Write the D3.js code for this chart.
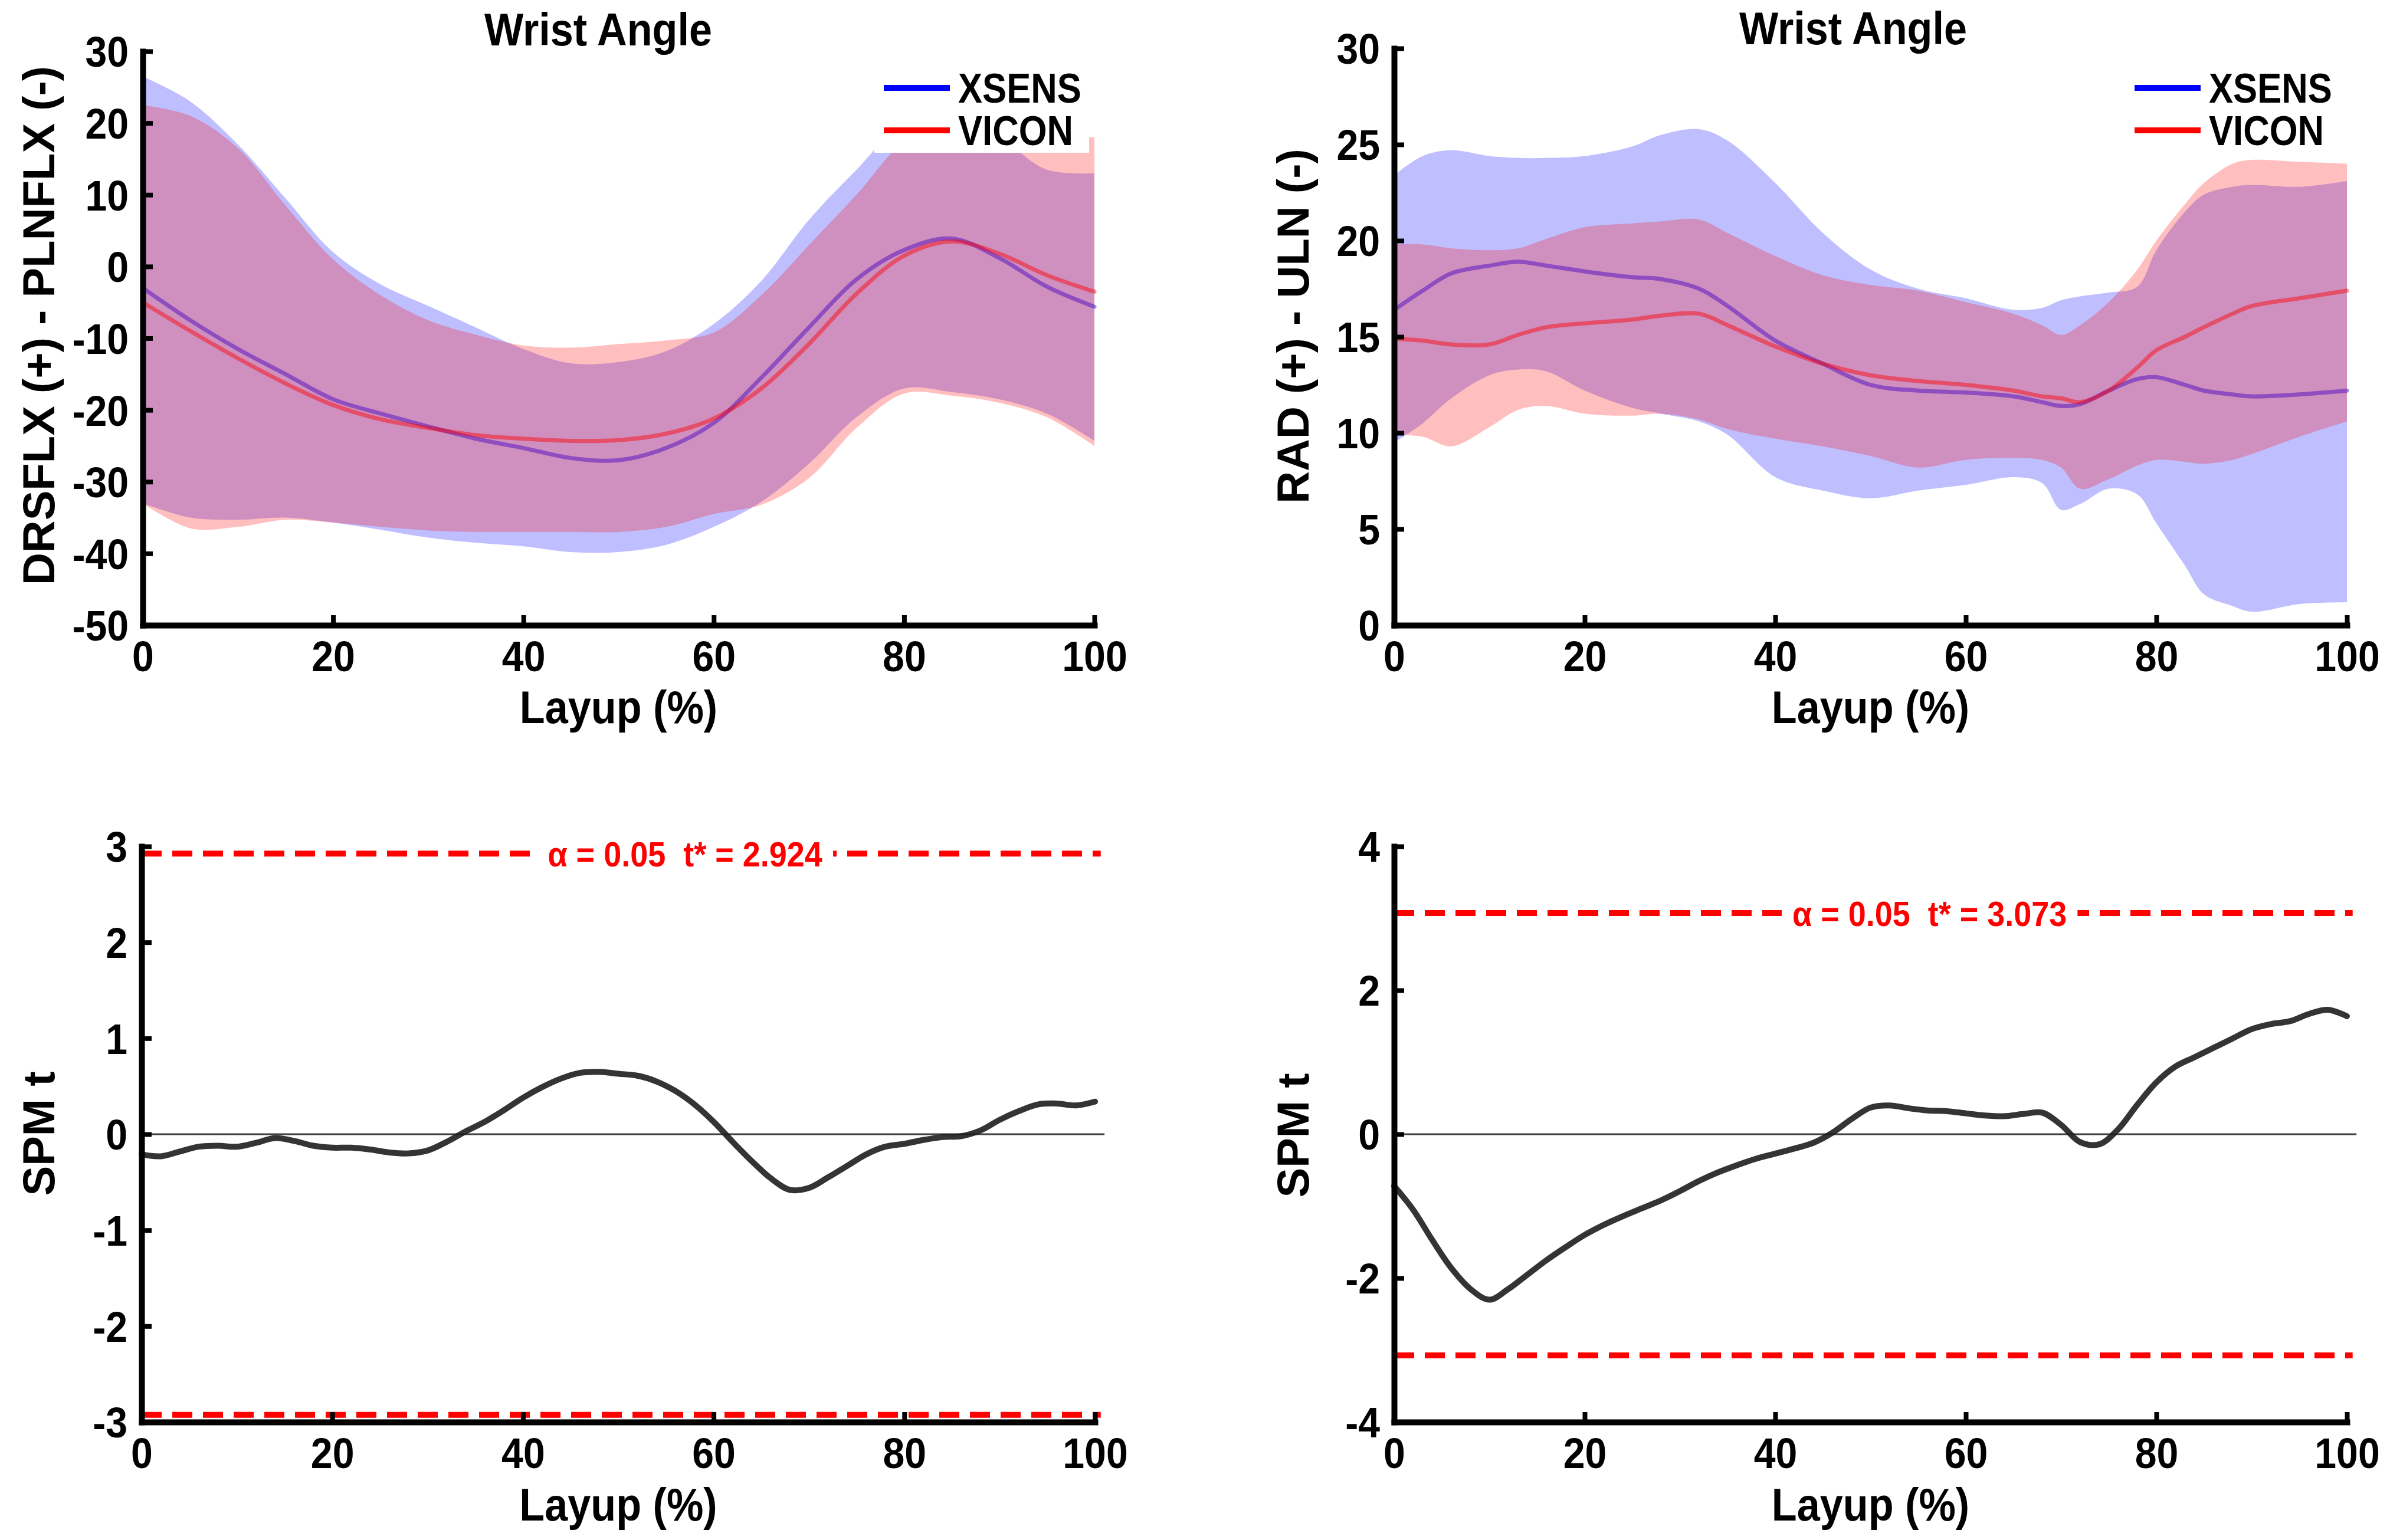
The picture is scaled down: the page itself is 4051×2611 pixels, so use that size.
<!DOCTYPE html>
<html>
<head>
<meta charset="utf-8">
<script src="https://d3js.org/d3.v7.min.js"></script>
<style>
  body { margin: 0; background: #fff; }
  text { font-weight: bold; white-space: pre; }
  /* no narrow face installed: regular Liberation Sans squeezed with scaleX */
  .narrow { font-family: 'Liberation Sans', Arial, sans-serif; }
  .wide { font-family: 'Liberation Sans', Arial, sans-serif; }
</style>
</head>
<body>
<script>
// ---------- data ----------
const xTicks = [0, 20, 40, 60, 80, 100];
const flexYTicks = [-50, -40, -30, -20, -10, 0, 10, 20, 30];
const radYTicks = [0, 5, 10, 15, 20, 25, 30];
const spmFlexTicks = [-3, -2, -1, 0, 1, 2, 3];
const spmRadTicks = [-4, -2, 0, 2, 4];
const seriesNames = ['XSENS', 'VICON'];

// wrist flexion/extension, mean +- sd
const flexPct = [0, 5, 10, 15, 20, 25, 30, 35, 40, 45, 50, 55, 60, 65, 70, 75, 80, 85, 90, 95, 100];
const flexXsensMean = [-3, -7.5, -11.5, -15, -18.5, -20.5, -22.3, -24, -25.3, -26.7, -27, -25.3, -21.8, -15.5, -8.5, -1.8, 2.3, 3.9, 1.2, -2.8, -5.6];
const flexViconMean = [-5, -9, -12.8, -16.3, -19.3, -21.3, -22.5, -23.5, -24, -24.3, -24.2, -23.3, -21.2, -17, -10.8, -3.8, 1.5, 3.5, 1.8, -1.2, -3.5];
const flexXsensUpper = [26.5, 23, 17, 9.5, 2, -2.5, -5.5, -8.5, -11.5, -13.5, -13.3, -11.8, -8, -2, 6.5, 13.5, 20, 21, 18, 13.5, 13];
const flexXsensLower = [-33, -35, -35.3, -35, -35.7, -36.7, -37.8, -38.5, -39, -39.8, -39.8, -38.8, -36.3, -32.8, -27.5, -21, -17, -17.5, -18.5, -20.5, -24.3];
const flexViconUpper = [22.5, 21, 16.5, 8.5, 1, -4, -7.5, -9.5, -11, -11.3, -10.8, -10.3, -9.2, -4, 3, 10, 17.5, 21, 21, 18.5, 18];
const flexViconLower = [-33, -36.5, -36.3, -35.3, -35.7, -36.3, -36.8, -37, -37, -37, -37, -36.3, -34.5, -33.2, -29.5, -22.5, -17.7, -18, -19, -21, -25];

// radial/ulnar deviation, mean +- sd
const radPct = [0, 3, 6, 10, 13, 16, 20, 25, 28, 32, 35, 40, 45, 50, 55, 60, 65, 68, 70, 72, 75, 78, 80, 83, 85, 88, 90, 95, 100];
const radXsensMean = [16.4, 17.4, 18.3, 18.7, 18.9, 18.7, 18.4, 18.1, 18.0, 17.5, 16.6, 14.8, 13.6, 12.5, 12.2, 12.1, 11.9, 11.6, 11.4, 11.5, 12.2, 12.8, 12.9, 12.5, 12.2, 12.0, 11.9, 12.0, 12.2];
const radViconMean = [14.9, 14.8, 14.6, 14.6, 15.1, 15.5, 15.7, 15.9, 16.1, 16.2, 15.6, 14.5, 13.6, 13.0, 12.7, 12.5, 12.2, 11.9, 11.8, 11.6, 12.2, 13.4, 14.3, 15.0, 15.5, 16.2, 16.6, 17.0, 17.4];
const radXsensUpper = [23.4, 24.4, 24.7, 24.4, 24.3, 24.3, 24.4, 24.9, 25.5, 25.8, 25.2, 23.0, 20.4, 18.5, 17.5, 17.0, 16.4, 16.5, 16.9, 17.1, 17.3, 17.6, 19.5, 21.5, 22.4, 22.8, 22.9, 22.8, 23.1];
const radXsensLower = [9.5, 10.5, 11.8, 13.0, 13.3, 13.2, 12.2, 11.3, 11.0, 10.6, 9.9, 7.7, 7.0, 6.6, 7.0, 7.3, 7.7, 7.4, 6.0, 6.3, 7.1, 6.8, 5.3, 3.1, 1.6, 1.0, 0.7, 1.1, 1.2];
const radViconUpper = [19.8, 19.8, 19.6, 19.5, 19.6, 20.1, 20.7, 20.9, 21.0, 21.1, 20.4, 19.2, 18.2, 17.7, 17.4, 16.8, 16.2, 15.6, 15.1, 15.6, 16.8, 18.5, 20.0, 21.9, 23.0, 24.0, 24.2, 24.1, 24.0];
const radViconLower = [9.9, 9.8, 9.3, 10.3, 11.2, 11.4, 11.0, 10.9, 11.0, 10.7, 10.2, 9.7, 9.3, 8.8, 8.2, 8.6, 8.7, 8.6, 8.2, 7.1, 7.6, 8.3, 8.6, 8.5, 8.4, 8.6, 8.9, 9.8, 10.6];

// SPM t curves
const spmPct = [0, 2, 4, 6, 8, 10, 12, 14, 16, 18, 20, 22, 24, 26, 28, 30, 32, 34, 36, 38, 40, 42, 44, 46, 48, 50,
                52, 54, 56, 58, 60, 62, 64, 66, 68, 70, 72, 74, 76, 78, 80, 82, 84, 86, 88, 90, 92, 94, 96, 98, 100];
const spmFlex = [-0.21, -0.23, -0.18, -0.13, -0.12, -0.13, -0.09, -0.04, -0.07, -0.12, -0.14, -0.14, -0.16, -0.19, -0.20, -0.17, -0.08, 0.03, 0.13, 0.25, 0.38, 0.49, 0.58, 0.64, 0.65, 0.63,
                 0.61, 0.55, 0.45, 0.31, 0.13, -0.08, -0.28, -0.46, -0.58, -0.56, -0.45, -0.33, -0.21, -0.13, -0.10, -0.06, -0.03, -0.02, 0.04, 0.15, 0.24, 0.31, 0.32, 0.30, 0.34];
const spmRad = [-0.72, -1.05, -1.47, -1.86, -2.15, -2.30, -2.15, -1.95, -1.75, -1.57, -1.40, -1.26, -1.14, -1.03, -0.92, -0.79, -0.65, -0.53, -0.43, -0.34, -0.27, -0.20, -0.12, 0.02, 0.21, 0.37,
                0.40, 0.36, 0.33, 0.32, 0.29, 0.26, 0.25, 0.28, 0.30, 0.13, -0.11, -0.14, 0.07, 0.41, 0.72, 0.94, 1.07, 1.20, 1.33, 1.46, 1.53, 1.57, 1.67, 1.73, 1.64];
const tStarFlex = 2.924;
const tStarRad = 3.073;

// ---------- drawing ----------
const width = 4051, height = 2611;
const svg = d3.select('body').append('svg')
  .attr('width', width)
  .attr('height', height)
  .style('background', '#fff');

const smooth = d3.curveCatmullRom.alpha(0.5);

// condensed looking bold text
function label(g, x, y, str, size, sx, anchor, cls) {
  return g.append('text')
    .attr('class', cls || 'narrow')
    .attr('transform', 'translate(' + x + ',' + y + ') scale(' + sx + ',1)')
    .attr('text-anchor', anchor || 'middle')
    .attr('font-size', size)
    .text(str);
}

function panel(p) {
  const g = svg.append('g');
  const x = d3.scaleLinear().domain([0, 100]).range([p.left, p.right]);
  const y = d3.scaleLinear().domain(p.yDomain).range([p.bottom, p.top]);
  return { g: g, x: x, y: y };
}

function axes(pn, p) {
  const xAxis = d3.axisBottom(pn.x).tickValues(xTicks).tickFormat(d => String(d))
    .tickSizeInner(-17).tickSizeOuter(0);
  const yAxis = d3.axisLeft(pn.y).tickValues(p.yTicks).tickFormat(d => String(d))
    .tickSizeInner(-17).tickSizeOuter(0);

  const gx = pn.g.append('g').attr('transform', 'translate(0,' + p.bottom + ')').call(xAxis);
  const gy = pn.g.append('g').attr('transform', 'translate(' + p.left + ',0)').call(yAxis);

  [gx, gy].forEach(a => {
    a.select('.domain').attr('stroke', '#000').attr('stroke-width', 10).attr('stroke-linecap', 'square');
    a.selectAll('.tick line').attr('stroke', '#000').attr('stroke-width', 8);
    a.selectAll('.tick text')
      .attr('class', 'narrow')
      .attr('fill', '#000')
      .attr('font-size', 72)
      .attr('font-weight', 'bold');
  });
  gx.selectAll('.tick text').attr('y', 27).attr('transform', 'scale(0.92,1)');
  gy.selectAll('.tick text').attr('x', -26).attr('dy', '0.36em').attr('transform', 'scale(0.92,1)');

  // axis titles
  label(pn.g, (p.left + p.right) / 2, p.xlabelY, 'Layup (%)', 78, 0.9);
  pn.g.append('text')
    .attr('class', 'wide')
    .attr('transform', 'translate(' + p.ylabelX + ',' + p.ylabelY + ') rotate(-90)')
    .attr('text-anchor', 'middle')
    .attr('dy', '0.35em')
    .attr('font-size', 76)
    .text(p.ylabel);
}

function band(pn, pct, lo, hi, color) {
  const area = d3.area()
    .x((d, i) => pn.x(pct[i]))
    .y0((d, i) => pn.y(lo[i]))
    .y1((d, i) => pn.y(hi[i]))
    .curve(smooth);
  pn.g.append('path').datum(pct).attr('d', area)
    .attr('fill', color).attr('fill-opacity', 0.25);
}

function curve(pn, pct, vals, color, w, op) {
  const line = d3.line()
    .x((d, i) => pn.x(pct[i]))
    .y(d => pn.y(d))
    .curve(smooth);
  pn.g.append('path').datum(vals).attr('d', line)
    .attr('fill', 'none').attr('stroke', color)
    .attr('stroke-width', w).attr('stroke-opacity', op)
    .attr('stroke-linejoin', 'round').attr('stroke-linecap', 'round');
}

function legend(pn, p) {
  pn.g.append('rect')
    .attr('x', p.legX - 16).attr('y', 120).attr('width', 364).attr('height', 139)
    .attr('fill', '#fff');
  const colors = ['#0000ff', '#ff0000'];
  seriesNames.forEach((name, i) => {
    const ly = 149 + i * 72;
    pn.g.append('line')
      .attr('x1', p.legX).attr('x2', p.legX + 112)
      .attr('y1', ly).attr('y2', ly)
      .attr('stroke', colors[i]).attr('stroke-width', 10);
    label(pn.g, p.legX + 126, ly + 25, name, 70, 0.88, 'start');
  });
}

function threshold(pn, p, tStar) {
  const xEnd = pn.x(100.6);
  [tStar, -tStar].forEach(v => {
    pn.g.append('line')
      .attr('x1', pn.x(0)).attr('x2', xEnd)
      .attr('y1', pn.y(v)).attr('y2', pn.y(v))
      .attr('stroke', '#ff0000').attr('stroke-width', 10)
      .attr('stroke-dasharray', '34,18');
  });
  // label sits on the upper line with a white gap behind it
  const lg = pn.g.append('g')
    .attr('transform', 'translate(' + pn.x(p.tLabelPct) + ',' + pn.y(tStar) + ')');
  const bg = lg.append('rect').attr('fill', '#fff');
  const t = lg.append('text')
    .attr('class', 'narrow')
    .attr('transform', 'scale(0.9,1)')
    .attr('text-anchor', 'middle')
    .attr('dy', '0.36em')
    .attr('font-size', 60)
    .attr('fill', '#ff0000')
    .text('\u03b1 = 0.05  t* = ' + tStar.toFixed(3));
  const bb = t.node().getBBox();
  bg.attr('x', bb.x * 0.9 - 18).attr('width', bb.width * 0.9 + 36)
    .attr('y', -30).attr('height', 60);
}

// ---------- panels ----------
const pTL = { left: 242, right: 1855, top: 87, bottom: 1060, yDomain: [-50, 30], yTicks: flexYTicks,
  ylabel: 'DRSFLX (+) - PLNFLX (-)', ylabelX: 65, ylabelY: 552, xlabelY: 1226,
  titleX: 1014, titleY: 77, legX: 1498 };
const pTR = { left: 2363, right: 3978, top: 82, bottom: 1060, yDomain: [0, 30], yTicks: radYTicks,
  ylabel: 'RAD (+) - ULN (-)', ylabelX: 2191, ylabelY: 553, xlabelY: 1226,
  titleX: 3141, titleY: 75, legX: 3618 };
const pBL = { left: 240, right: 1856, top: 1435, bottom: 2411, yDomain: [-3, 3], yTicks: spmFlexTicks,
  ylabel: 'SPM t', ylabelX: 65, ylabelY: 1922, xlabelY: 2578, tLabelPct: 57 };
const pBR = { left: 2363, right: 3978, top: 1435, bottom: 2411, yDomain: [-4, 4], yTicks: spmRadTicks,
  ylabel: 'SPM t', ylabelX: 2191, ylabelY: 1925, xlabelY: 2578, tLabelPct: 56.2 };

// top left: flexion
const tl = panel(pTL);
band(tl, flexPct, flexXsensLower, flexXsensUpper, '#0000ff');
curve(tl, flexPct, flexXsensMean, '#0000ff', 7, 0.45);
band(tl, flexPct, flexViconLower, flexViconUpper, '#ff0000');
curve(tl, flexPct, flexViconMean, '#ff0000', 7, 0.45);
legend(tl, pTL);
axes(tl, pTL);
label(tl.g, pTL.titleX, pTL.titleY, 'Wrist Angle', 78, 0.9);

// top right: deviation
const tr = panel(pTR);
band(tr, radPct, radXsensLower, radXsensUpper, '#0000ff');
curve(tr, radPct, radXsensMean, '#0000ff', 7, 0.45);
band(tr, radPct, radViconLower, radViconUpper, '#ff0000');
curve(tr, radPct, radViconMean, '#ff0000', 7, 0.45);
legend(tr, pTR);
axes(tr, pTR);
label(tr.g, pTR.titleX, pTR.titleY, 'Wrist Angle', 78, 0.9);

// bottom: SPM
[[pBL, spmFlex, tStarFlex], [pBR, spmRad, tStarRad]].forEach(([p, vals, tStar]) => {
  const pn = panel(p);
  pn.g.append('line')
    .attr('x1', pn.x(0)).attr('x2', pn.x(101))
    .attr('y1', pn.y(0)).attr('y2', pn.y(0))
    .attr('stroke', '#444').attr('stroke-width', 3);
  threshold(pn, p, tStar);
  curve(pn, spmPct, vals, '#1e1e1e', 10, 0.9);
  axes(pn, p);
});
</script>
</body>
</html>
